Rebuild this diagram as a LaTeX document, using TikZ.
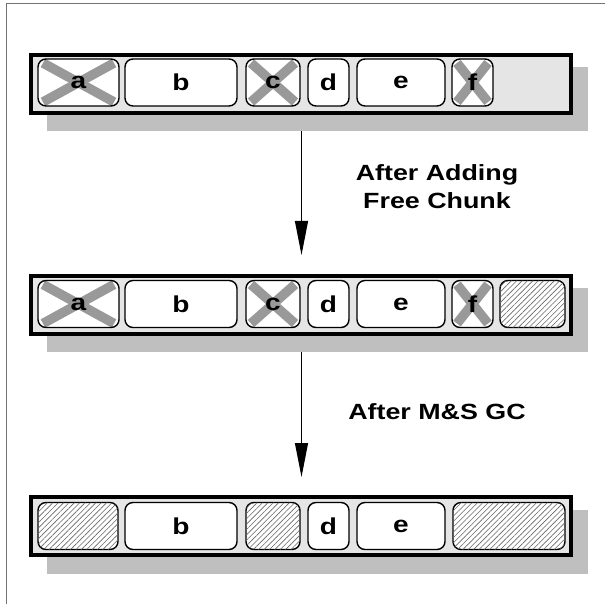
\documentclass[tikz,border=0pt]{standalone}
\usepackage{fontspec}
\setmainfont{Liberation Sans}
\usetikzlibrary{arrows.meta,patterns.meta}
\newcommand\widetext[1]{\scalebox{1.22}[1]{#1}}
\begin{document}
\begin{tikzpicture}[x=1pt,y=-1pt,
  shadowbox/.style={rectangle, fill=black!25, inner sep=0pt, outer sep=0pt,
    minimum width=541pt, minimum height=64pt},
  heap/.style={rectangle, draw=black, line width=4pt, fill=black!10,
    inner sep=0pt, minimum width=540pt, minimum height=58pt},
  chunk/.style={rectangle, draw=black, line width=1.4pt, rounded corners=8pt,
    fill=white, inner sep=0pt, minimum height=47pt,
    font=\fontsize{23}{26}\selectfont\bfseries},
  dead/.style={chunk, path picture={
    \draw[black!40, line width=9.5pt]
      ([shift={(5,4)}]path picture bounding box.north west) --
      ([shift={(-5,-4)}]path picture bounding box.south east);
    \draw[black!40, line width=9.5pt]
      ([shift={(5,-4)}]path picture bounding box.south west) --
      ([shift={(-5,4)}]path picture bounding box.north east);}},
  freechunk/.style={chunk, postaction={pattern={Lines[angle=45,distance=3.8pt,line width=0.6pt]},
    pattern color=black!60}},
  flow/.style={line width=1.1pt, -{Triangle[length=34pt,width=13pt]}},
  caption/.style={align=center, font=\fontsize{22}{28}\selectfont\bfseries}
]
\useasboundingbox (0,0) rectangle (605,604);

% outer frame
\draw[black!55, line width=1pt] (6.5,604) -- (6.5,3.3) -- (605,3.3);

% ---------- heap before ----------
\node[shadowbox] (sh1) at (317.5,99) {};
\node[heap] (row1) at (301.25,84) {};
\node[dead, minimum width=81pt]  (a1) at (78.5,82.5)  {\widetext{a}};
\node[chunk, minimum width=112pt] (b1) at (181,82.5) {\widetext{b}};
\node[dead, minimum width=54pt]  (c1) at (273,82.5)   {\widetext{c}};
\node[chunk, minimum width=41pt] (d1) at (328.5,82.5) {\widetext{d}};
\node[chunk, minimum width=88pt] (e1) at (401,82.5)   {\widetext{e}};
\node[dead, minimum width=41pt]  (f1) at (472.5,82.5) {\widetext{f}};

% ---------- heap after adding a free chunk ----------
\node[shadowbox] (sh2) at (317.5,319.5) {};
\node[heap] (row2) at (301.25,305) {};
\node[dead, minimum width=81pt]  (a2) at (78.5,304)  {\widetext{a}};
\node[chunk, minimum width=112pt] (b2) at (181,304) {\widetext{b}};
\node[dead, minimum width=54pt]  (c2) at (273,304)   {\widetext{c}};
\node[chunk, minimum width=41pt] (d2) at (328.5,304) {\widetext{d}};
\node[chunk, minimum width=88pt] (e2) at (401,304)   {\widetext{e}};
\node[dead, minimum width=41pt]  (f2) at (472.5,304) {\widetext{f}};
\node[freechunk, minimum width=65pt] (g2) at (532.5,304) {};

% ---------- heap after mark & sweep ----------
\node[shadowbox] (sh3) at (317.5,542) {};
\node[heap] (row3) at (301.25,525.5) {};
\node[freechunk, minimum width=80pt]  (a3) at (78,526)  {};
\node[chunk, minimum width=112pt] (b3) at (181,526) {\widetext{b}};
\node[freechunk, minimum width=54pt]  (c3) at (273,526) {};
\node[chunk, minimum width=41pt] (d3) at (328.5,526) {\widetext{d}};
\node[chunk, minimum width=88pt] (e3) at (401,526)   {\widetext{e}};
\node[freechunk, minimum width=112pt] (f3) at (509,526) {};

% ---------- transitions ----------
\coordinate (t1) at (301.5,255);
\coordinate (t2) at (301.5,477);
\draw[flow] (sh1.south -| t1) -- (t1);
\draw[flow] (sh2.south -| t2) -- (t2);

\node[caption] (lab1) at (437,187) {\widetext{After Adding}\\\widetext{Free Chunk}};
\node[caption] (lab2) at (437,412) {\widetext{After M\&S GC}};
\end{tikzpicture}
\end{document}
